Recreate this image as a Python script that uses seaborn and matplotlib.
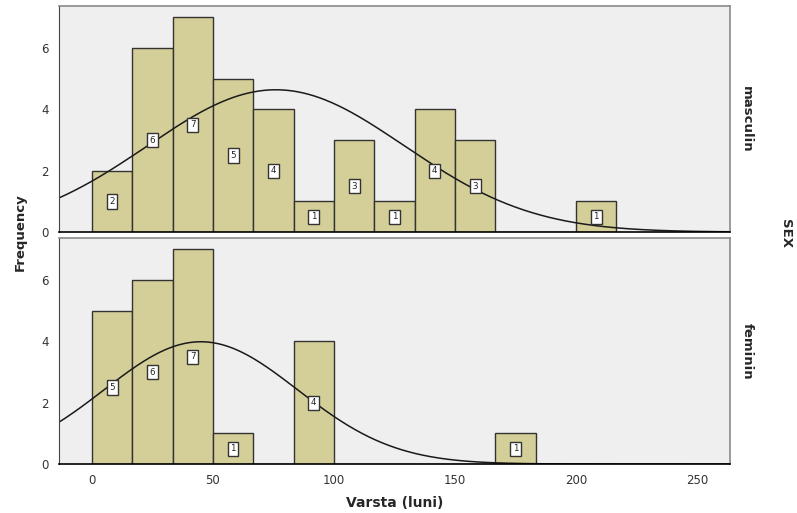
import numpy as np
import matplotlib
matplotlib.use("Agg")
import matplotlib.pyplot as plt
import seaborn as sns

# bin edges (width 200/12 months) and counts
bin_width = 200 / 12
bin_edges = [i * bin_width for i in range(14)]
bin_centers = [e + bin_width / 2 for e in bin_edges[:-1]]

counts_masculin = [2, 6, 7, 5, 4, 1, 3, 1, 4, 3, 0, 0, 1]
counts_feminin = [5, 6, 7, 1, 0, 4, 0, 0, 0, 0, 1, 0, 0]

# fitted normal curve parameters (mean, std dev) for each group
norm_masculin = (76.0, 53.0)
norm_feminin = (45.0, 40.0)

groups = ["masculin", "feminin"]
x_ticks = [0, 50, 100, 150, 200, 250]
y_ticks = [0, 2, 4, 6]

BAR = "#d4cf98"
BG = "#efefef"
EDGE = "#333333"


def draw_panel(ax, counts, norm, label):
    sns.histplot(x=bin_centers, weights=counts, bins=bin_edges, ax=ax,
                 color=BAR, alpha=1, edgecolor=EDGE, linewidth=1.0)
    mu, sd = norm
    n = sum(counts)
    xs = np.linspace(-14, 264, 400)
    ys = n * bin_width * np.exp(-0.5 * ((xs - mu) / sd) ** 2) / (sd * np.sqrt(2 * np.pi))
    sns.lineplot(x=xs, y=ys, ax=ax, color="#1a1a1a", linewidth=1.1)
    for c, h in zip(bin_centers, counts):
        if h > 0:
            ax.text(c, h / 2, str(h), ha="center", va="center", fontsize=6.3,
                    color="#222222",
                    bbox=dict(boxstyle="square,pad=0.3", fc="white", ec="#333333", lw=1.0))
    ax.set_facecolor(BG)
    ax.set_xlim(-13.6, 263.6)
    ax.set_ylim(0, 7.37)
    ax.set_yticks(y_ticks)
    ax.set_ylabel("")
    ax.set_xlabel("")
    ax.text(1.025, 0.5, label, transform=ax.transAxes, rotation=270,
            ha="center", va="center", fontsize=9.5, fontweight="bold")
    for s in ["top", "right"]:
        ax.spines[s].set_color("#8a8a8a")
        ax.spines[s].set_linewidth(1.2)
    ax.spines["left"].set_color("#444444")
    ax.spines["bottom"].set_color("black")
    ax.spines["bottom"].set_linewidth(1.2)
    ax.tick_params(axis="y", length=4, labelsize=8.5, labelcolor="#333333", color="#444444")


def main():
    sns.set_style("white")
    fig, axes = plt.subplots(2, 1, figsize=(7.97, 5.13), dpi=100, sharex=True)
    fig.subplots_adjust(left=0.074, right=0.916, top=0.988, bottom=0.0955, hspace=0.027)

    draw_panel(axes[0], counts_masculin, norm_masculin, groups[0])
    draw_panel(axes[1], counts_feminin, norm_feminin, groups[1])

    axes[0].tick_params(axis="x", length=0, labelbottom=False)
    axes[1].set_xticks(x_ticks)
    axes[1].tick_params(axis="x", length=4, labelsize=8.5, labelcolor="#333333")
    axes[1].set_xlabel("Varsta (luni)", fontsize=10, fontweight="bold", labelpad=6)

    fig.text(0.026, 0.548, "Frequency", rotation=90, ha="center", va="center",
             fontsize=9.5, fontweight="bold")
    fig.text(0.985, 0.545, "SEX", rotation=270, ha="center", va="center",
             fontsize=9.5, fontweight="bold")

    plt.savefig("out.png", dpi=100)


if __name__ == "__main__":
    main()
